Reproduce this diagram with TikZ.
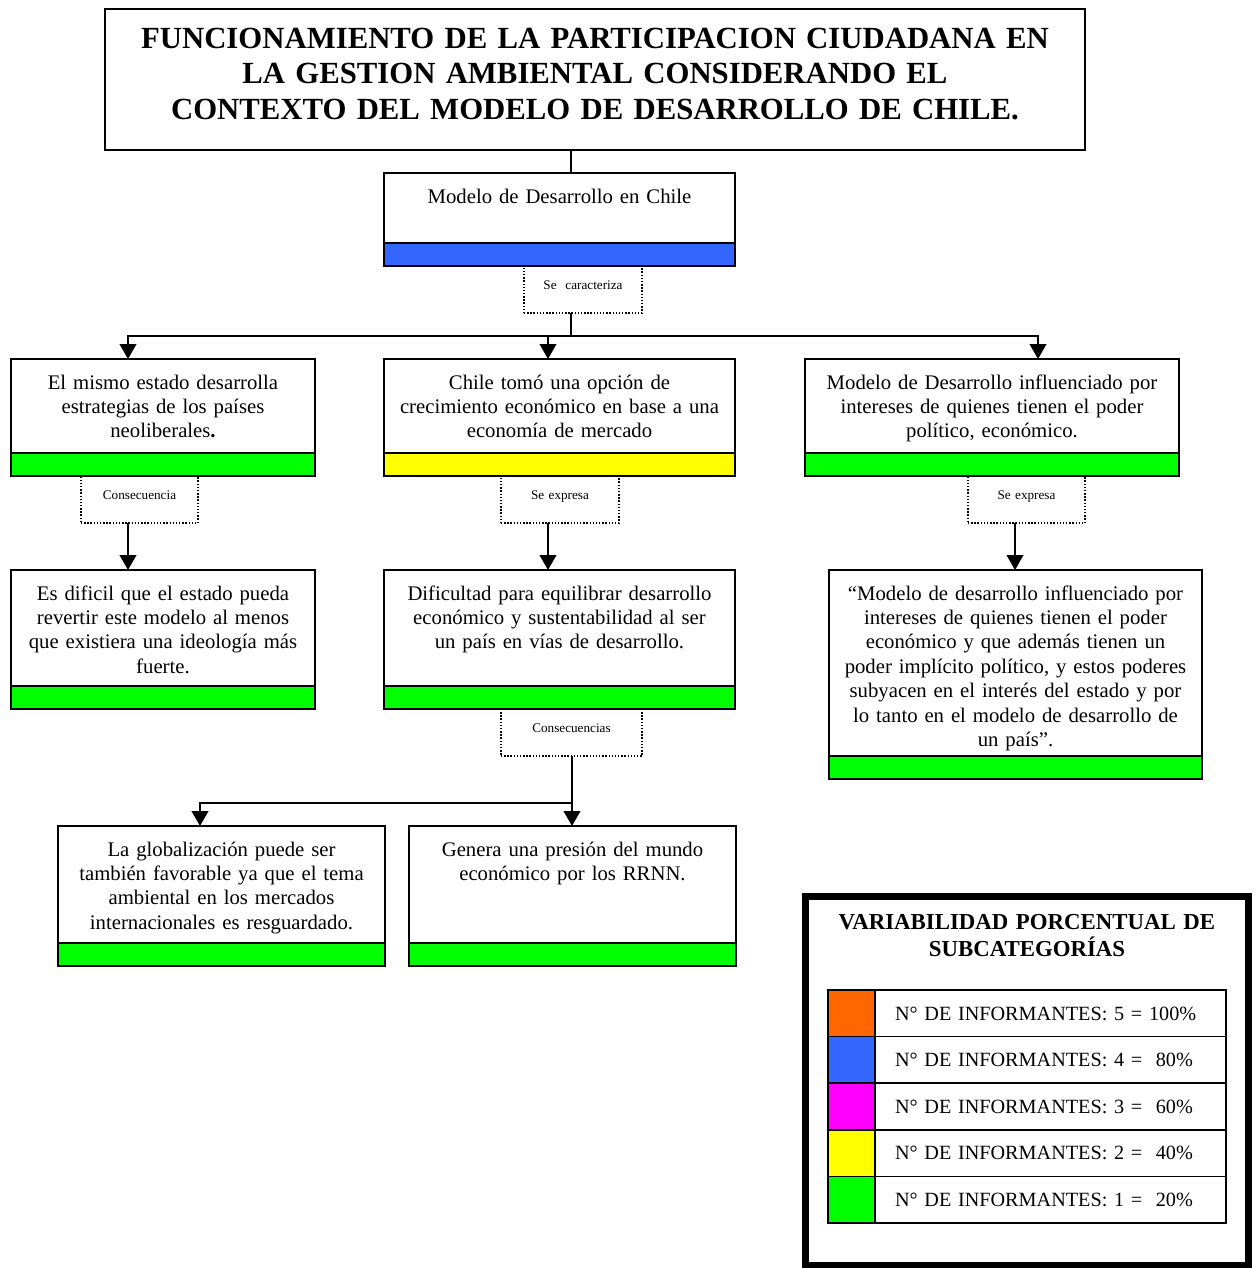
\documentclass[tikz,border=0pt]{standalone}
\usepackage{fontspec}
\setmainfont{Liberation Serif}
\usetikzlibrary{arrows.meta}
\definecolor{verde}{RGB}{0, 255, 0}
\definecolor{amarillo}{RGB}{255, 255, 0}
\definecolor{azul}{RGB}{51, 102, 255}
\definecolor{magenta}{RGB}{255, 0, 255}
\definecolor{naranja}{RGB}{255, 102, 0}
\newcommand{\fuentetitulo}{\bfseries\fontsize{17.5}{20.4}\selectfont}
\newcommand{\fuentecaja}{\fontsize{11.8}{13.9}\selectfont}
\newcommand{\fuentefila}{\fontsize{11.5}{13.9}\selectfont}
\newcommand{\fuenteetiq}{\fontsize{7.5}{9}\selectfont}
\tikzset{
  caja/.style={draw, line width=1.1pt, fill=white, anchor=north, outer sep=0pt,
               inner xsep=0.05cm, inner ysep=0pt, align=center, font=\fuentecaja,
               text height=0.60cm},
  banda/.style={draw, line width=1.1pt, anchor=north, outer sep=0pt, inner sep=0pt,
                minimum height=0.46cm},
  etiqueta/.style={draw, densely dotted, line width=0.8pt, anchor=north, outer sep=0pt,
                   inner sep=0pt, align=center, font=\fuenteetiq,
                   text height=0.46cm, text depth=0.48cm},
  celda/.style={draw, line width=1pt, anchor=north west, outer sep=0pt, inner sep=0pt,
                minimum height=0.932cm},
  linea/.style={line width=0.9pt},
  flecha/.style={line width=0.9pt, -{Triangle[width=9.5pt,length=8.5pt]}}
}

\begin{document}
\begin{tikzpicture}
  \useasboundingbox (0,0) rectangle (25.12,-25.36);

  % titulo
  \node[caja, font=\fuentetitulo, text width=19.5cm, text height=0.78cm, text depth=2.04cm]
       (titulo) at (11.90,-0.18)
       {FUNCIONAMIENTO DE LA PARTICIPACION CIUDADANA EN\\LA GESTION AMBIENTAL CONSIDERANDO EL\\CONTEXTO DEL MODELO DE DESARROLLO DE CHILE.};
  \coordinate (eje) at (11.42,0);

  % modelo de desarrollo
  \node[caja, text width=6.92cm, text depth=0.80cm] (modelo) at (11.19,-3.46) {Modelo de Desarrollo en Chile};
  \node[banda, minimum width=7.02cm, fill=azul]   (modelo-b) at (modelo.south) {};
  \node[etiqueta, text width=2.36cm]              (caract)   at (11.66,-5.32) {Se\ \ caracteriza};
  \draw[linea] (titulo.south -| eje) -- (modelo.north -| eje);
  \coordinate (rama) at (11.42,-6.72);
  \draw[linea] (caract.south -| rama) -- (rama);

  % segunda fila
  \node[caja, text width=5.98cm, text depth=1.28cm] (estado)     at (3.26,-7.18)
       {El mismo estado desarrolla\\estrategias de los países\\neoliberales\textbf{.}};
  \node[banda, minimum width=6.08cm, fill=verde]   (estado-b)   at (estado.south) {};
  \node[caja, text width=6.92cm, text depth=1.28cm] (opcion)     at (11.19,-7.18)
       {Chile tomó una opción de\\crecimiento económico en base a una\\economía de mercado};
  \node[banda, minimum width=7.02cm, fill=amarillo] (opcion-b)  at (opcion.south) {};
  \node[caja, text width=7.38cm, text depth=1.28cm] (influencia) at (19.84,-7.18)
       {Modelo de Desarrollo influenciado por\\intereses de quienes tienen el poder\\político, económico.};
  \node[banda, minimum width=7.48cm, fill=verde]   (influencia-b) at (influencia.south) {};

  \draw[flecha] (rama) -| ([xshift=-0.70cm]estado.north);
  \draw[flecha] (rama) -| ([xshift=0.92cm]influencia.north);
  \draw[flecha] ([xshift=-0.23cm]opcion.north |- rama) -- ([xshift=-0.23cm]opcion.north);

  \node[etiqueta, text width=2.34cm] (consec1)  at (2.79,-9.52)  {Consecuencia};
  \node[etiqueta, text width=2.36cm] (expresa1) at (11.20,-9.52) {Se expresa};
  \node[etiqueta, text width=2.34cm] (expresa2) at (20.53,-9.52) {Se expresa};

  % tercera fila
  \node[caja, text width=5.98cm, text depth=1.72cm] (dificil)    at (3.26,-11.40)
       {Es dificil que el estado pueda\\revertir este modelo al menos\\que existiera una ideología más\\fuerte.};
  \node[banda, minimum width=6.08cm, fill=verde]   (dificil-b)  at (dificil.south) {};
  \node[caja, text width=6.92cm, text depth=1.72cm] (equilibrio) at (11.19,-11.40)
       {Dificultad para equilibrar desarrollo\\económico y sustentabilidad al ser\\un país en vías de desarrollo.};
  \node[banda, minimum width=7.02cm, fill=verde]   (equilibrio-b) at (equilibrio.south) {};
  \node[caja, text width=7.36cm, text depth=3.12cm] (poderes)    at (20.31,-11.40)
       {“Modelo de desarrollo influenciado por\\intereses de quienes tienen el poder\\económico y que además tienen un\\poder implícito político, y estos poderes\\subyacen en el interés del estado y por\\lo tanto en el modelo de desarrollo de\\un país”.};
  \node[banda, minimum width=7.46cm, fill=verde]   (poderes-b)  at (poderes.south) {};

  \draw[flecha] ([xshift=-0.23cm]consec1.south)  -- ([xshift=-0.23cm]consec1.south |- dificil.north);
  \draw[flecha] ([xshift=-0.24cm]expresa1.south) -- ([xshift=-0.24cm]expresa1.south |- equilibrio.north);
  \draw[flecha] ([xshift=-0.23cm]expresa2.south) -- ([xshift=-0.23cm]expresa2.south |- poderes.north);

  \node[etiqueta, text width=2.82cm] (consec2) at (11.43,-14.18) {Consecuencias};
  \coordinate (rama2) at (11.44,-16.06);

  % cuarta fila
  \node[caja, text width=6.44cm, text depth=1.74cm] (global)  at (4.43,-16.52)
       {La globalización puede ser\\también favorable ya que el tema\\ambiental en los mercados\\internacionales es resguardado.};
  \node[banda, minimum width=6.54cm, fill=verde]   (global-b)  at (global.south) {};
  \node[caja, text width=6.44cm, text depth=1.74cm] (presion) at (11.45,-16.52)
       {Genera una presión del mundo\\económico por los RRNN.};
  \node[banda, minimum width=6.54cm, fill=verde]   (presion-b) at (presion.south) {};

  \draw[flecha] (consec2.south -| rama2) -- (rama2) -- (rama2 |- presion.north);
  \draw[flecha] (rama2) -| ([xshift=-0.43cm]global.north);

  % leyenda
  \draw[line width=0.14cm] (16.11,-17.93) rectangle (24.97,-25.31);
  \node[font=\bfseries\fontsize{13}{15.4}\selectfont, align=center, anchor=north, inner sep=0pt,
        text width=8.6cm, text height=0.60cm] (leyenda) at (20.54,-17.98)
       {VARIABILIDAD PORCENTUAL DE\\SUBCATEGORÍAS};
  \foreach \col/\texto [count=\i from 0] in {naranja/{5 = 100\%}, azul/{4 =\ \ 80\%},
      magenta/{3 =\ \ 60\%}, amarillo/{2 =\ \ 40\%}, verde/{1 =\ \ 20\%}}{
    \node[celda, fill=\col, minimum width=0.94cm] (color\i) at (16.56,{-19.80-0.932*\i}) {};
    \node[celda, minimum width=7.02cm, text width=6.22cm, inner xsep=0.4cm, align=left,
          font=\fuentefila, text height=0.60cm, text depth=0.332cm] (fila\i) at (color\i.north east)
         {N° DE INFORMANTES: \texto};
  }
\end{tikzpicture}
\end{document}
